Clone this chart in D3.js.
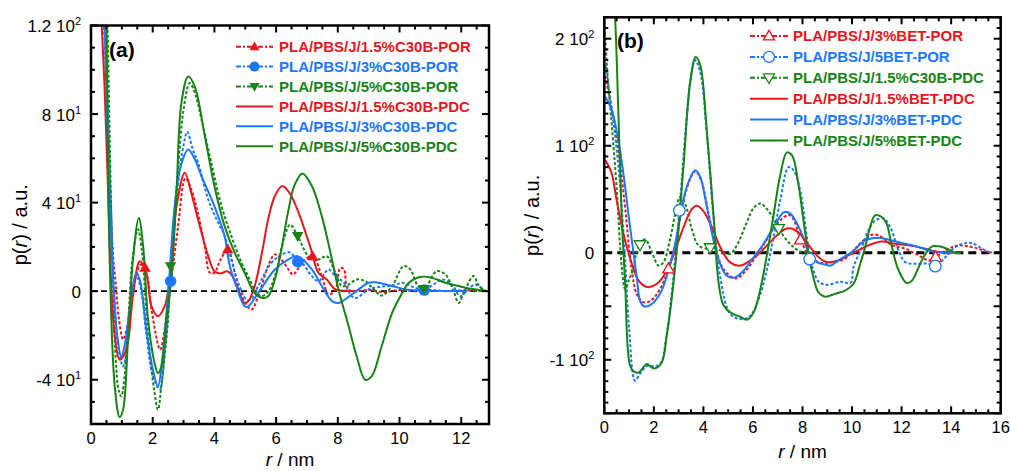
<!DOCTYPE html>
<html><head><meta charset="utf-8">
<script src="https://cdn.jsdelivr.net/npm/d3@7"></script>
<style>
body{margin:0;background:#fff}
svg{display:block}
text{font-family:"Liberation Sans",Arial,Helvetica,sans-serif}
</style></head>
<body><svg id="chart" width="1011" height="471"></svg>
<script>
// ---------- Panel (a) data: [r (nm), p(r)] ----------
const aRedPOR = [[0.3,160],[0.45,110],[0.6,50],[0.72,15],[0.8,4],[0.9,-12],[1.04,-21.8],[1.2,-14],[1.4,4],[1.62,12],[1.8,8],[1.98,-10],[2.24,-26.4],[2.4,-16],[2.5,-5],[2.6,5],[2.82,29],[3.06,51],[3.25,46],[3.47,35],[3.69,20],[3.85,8.3],[4.0,8.3],[4.2,14.3],[4.44,18.8],[4.66,8.3],[4.88,-2.3],[5.2,-8.3],[5.42,-2.3],[5.74,11.3],[5.96,16.6],[6.17,14.3],[6.4,9.8],[6.55,7.5],[6.73,10.5],[7.0,15],[7.21,15.5],[7.48,6.8],[7.7,-1.5],[7.92,0.8],[8.08,10.5],[8.2,9.8],[8.29,2.3],[8.45,0],[9,0.5],[9.5,-0.5],[10,0.5],[10.5,0],[11,0.5],[11.5,0],[12,0.3],[12.7,0]];
const aBluePOR = [[0.35,160],[0.5,100],[0.62,50],[0.75,0],[0.88,-25],[1.04,-34],[1.2,-20],[1.35,0],[1.47,7],[1.6,2],[1.8,-20],[2.0,-38],[2.23,-44.4],[2.4,-25],[2.58,4.5],[2.82,48],[3.0,66],[3.12,72],[3.3,64],[3.47,58],[3.8,41.4],[4.12,31],[4.33,25],[4.55,14.3],[4.77,3.8],[5.04,-3.8],[5.2,-3.5],[5.42,2.3],[5.85,12.8],[6.2,16.6],[6.45,17.5],[6.7,13.3],[6.83,12.8],[7.16,6.8],[7.37,4.5],[7.7,9.8],[7.92,6.8],[8.2,3.8],[8.45,-2.3],[8.61,-3],[9.0,0.8],[9.4,2],[9.8,2.5],[10.1,3.8],[10.5,1.5],[10.8,0.5],[11.1,3],[11.4,5.3],[11.7,3],[11.97,-2.3],[12.2,0.5],[12.45,3],[12.7,0.8]];
const aGreenPOR = [[0.45,170],[0.55,110],[0.65,40],[0.8,-30],[0.9,-45],[0.98,-47.5],[1.06,-42],[1.2,-15],[1.35,15],[1.52,28],[1.65,18],[1.85,-20],[2.05,-45],[2.17,-53.5],[2.3,-40],[2.5,-12.8],[2.58,11],[2.82,55],[3.0,82],[3.2,94],[3.4,88],[3.58,77.6],[3.9,58],[4.23,38.4],[4.55,24.9],[4.88,12.8],[5.09,6.8],[5.3,0.8],[5.52,-2.3],[5.75,0],[5.96,6.8],[6.28,24.9],[6.45,30],[6.7,24.9],[7.05,15.8],[7.37,14.3],[7.64,15.8],[7.92,8.3],[8.13,2.3],[8.35,3],[8.61,5.3],[8.89,4.5],[9.15,1],[9.42,-2],[9.76,2.3],[10.13,11.3],[10.35,9.8],[10.6,2.3],[10.8,1],[11.2,9],[11.49,7.5],[11.75,0],[11.92,-5.3],[12.1,0],[12.4,6.8],[12.55,3],[12.7,0.8]];
const aRedPDC = [[0.2,160],[0.34,122],[0.44,92],[0.55,47],[0.66,2],[0.77,-20],[0.93,-31],[1.15,-26],[1.36,-2],[1.58,13.5],[1.79,8.3],[1.96,-6.8],[2.17,-11.3],[2.39,-6.8],[2.55,5.3],[2.77,38],[3.04,53.5],[3.25,44.4],[3.47,32.4],[3.8,15.8],[4.0,9],[4.2,8],[4.4,9],[4.55,7.5],[4.77,0.8],[4.98,-5.3],[5.1,-4.5],[5.3,2],[5.55,18],[5.75,33],[5.96,43],[6.2,47.5],[6.45,44],[6.73,35.4],[7.1,20.3],[7.37,8.3],[7.64,5.3],[7.92,0.8],[8.3,0.2],[8.6,0]];
const aBluePDC = [[0.3,160],[0.45,115],[0.55,65],[0.7,10],[0.85,-20],[0.98,-29.4],[1.1,-24],[1.3,-3],[1.47,8.3],[1.6,4],[1.8,-18],[2.0,-35],[2.17,-43],[2.3,-32],[2.5,-0.8],[2.71,38],[2.9,56],[3.15,64],[3.35,60],[3.58,52],[4.0,38.4],[4.33,24.9],[4.5,11.3],[4.71,2.3],[4.98,-6.8],[5.09,-7],[5.42,-0.8],[5.96,9.8],[6.39,14.3],[6.7,15.8],[7.16,9.8],[7.48,2.3],[7.81,-4.5],[8.02,-5.3],[8.45,-1.5],[9.0,3.8],[9.22,4],[9.76,2.3],[10.2,0.8],[10.8,0.3],[11.5,0.1],[12.2,0]];
const aGreenPDC = [[0.45,170],[0.5,125],[0.6,17],[0.77,-43],[0.93,-57],[1.04,-53.5],[1.2,-21.8],[1.36,14.3],[1.55,33],[1.69,20.3],[1.85,-12.8],[2.06,-32.4],[2.17,-37],[2.28,-34],[2.44,-12.8],[2.6,5.3],[2.77,44.4],[2.93,85],[3.15,97],[3.36,92.6],[3.69,70],[4.0,47.5],[4.33,29.4],[4.66,17.3],[4.98,8.3],[5.3,-0.8],[5.52,-3],[5.74,-2.3],[5.96,5.3],[6.17,18.8],[6.39,36],[6.6,48],[6.85,53.2],[7.16,47.5],[7.48,33.9],[7.81,14.3],[8.02,0.8],[8.35,-15.8],[8.61,-29.4],[8.89,-40],[9.1,-38.4],[9.42,-24.9],[9.76,-9.8],[10.09,-0.8],[10.3,3.8],[10.72,6.5],[11.06,6],[11.49,3.8],[11.92,2.3],[12.35,1],[12.8,0.3]];
// markers panel (a)
const aRedMarks = [[1.75,10.6],[4.43,18.8],[7.18,15.8]];
const aBlueMarks = [[2.58,4.5],[6.7,13.3],[10.8,0.5]];
const aGreenMarks = [[2.58,11.3],[6.7,24.9],[10.8,1]];
const aLegendLabels = ["PLA/PBS/J/1.5%C30B-POR","PLA/PBS/J/3%C30B-POR","PLA/PBS/J/5%C30B-POR","PLA/PBS/J/1.5%C30B-PDC","PLA/PBS/J/3%C30B-PDC","PLA/PBS/J/5%C30B-PDC"];
const aXTicks = [0,2,4,6,8,10,12];
const aYTickVals = [-40,0,40,80,120];
const aYTickMant = ["-4","0","4","8","1.2"];
const aYTickExp = ["1","","1","1","2"];

// ---------- Panel (b) data ----------
const bRedPOR = [[0.03,165],[0.3,135],[0.6,90],[0.85,40],[1.1,-15],[1.3,-38],[1.55,-46],[1.85,-45],[2.2,-36],[2.59,-15],[2.9,12],[3.3,58],[3.67,76],[3.9,68],[4.2,38],[4.5,5],[4.8,-15],[5.3,-24],[5.7,-17],[6.1,-4],[6.5,10],[6.9,25],[7.3,34],[7.5,35],[7.7,28],[7.91,12],[8.24,-1],[8.64,-8.8],[9.18,-8.8],[9.72,-5.6],[10.12,3.8],[10.53,13],[10.86,17],[11.2,14.7],[11.61,7],[12.15,3.8],[12.69,-2.5],[13.1,-7.2],[13.37,-4],[13.7,1],[14.04,5.3],[14.3,6.9],[14.7,6],[15.1,3.8],[15.5,0.6],[15.8,0]];
const bBluePOR = [[0.05,175],[0.2,150],[0.37,122],[0.57,80],[0.8,10],[1.0,-70],[1.24,-119.6],[1.44,-113],[1.72,-106],[2.0,-106],[2.25,-104],[2.52,-76],[2.72,-38],[3.03,39.6],[3.3,120],[3.5,165],[3.67,180],[3.87,169],[4.14,111],[4.4,35],[4.68,-23],[5.08,-57],[5.49,-62],[5.89,-59],[6.3,-38.5],[6.7,-1],[7.1,49],[7.44,80],[7.64,77],[7.91,58],[8.18,14],[8.3,-4],[8.45,-17],[8.65,-27],[8.99,-30],[9.53,-27],[9.94,-28],[10.06,-13.4],[10.4,5.3],[10.66,21],[10.93,30],[11.27,32],[11.54,24],[11.88,2],[12.15,-8.8],[12.55,-10.3],[13.1,-10.3],[13.36,-12.8],[13.77,-4],[14.17,5.3],[14.57,9],[14.84,9],[15.25,3.8],[15.58,0]];
const bGreenPOR = [[0.0,215],[0.15,160],[0.3,120],[0.5,60],[0.7,-12],[0.84,-34],[1.0,-25],[1.17,-15],[1.3,0],[1.44,7.5],[1.65,12.5],[1.92,0.6],[2.19,-12],[2.39,-8.8],[2.66,13],[2.93,44],[3.06,52],[3.26,46],[3.53,22.5],[3.8,6.9],[4.14,3.8],[4.27,4.7],[4.55,3.8],[4.81,0.6],[5.08,-1],[5.35,6.9],[5.76,28.8],[6.03,42],[6.3,46],[6.56,41],[6.83,32],[7.04,22.5],[7.37,11.6],[7.64,5.3],[7.91,1.2],[8.3,0],[8.7,0]];
const bRedPDC = [[0.03,87],[0.15,82],[0.3,74],[0.5,49],[0.77,18],[1.11,-10],[1.38,-25.8],[1.72,-32],[2.12,-29],[2.52,-16.7],[2.86,2],[3.2,24],[3.53,40.8],[3.73,44],[4.0,39],[4.34,24],[4.68,5.3],[5.08,-9],[5.49,-12],[5.89,-7.3],[6.3,0.5],[6.7,10],[7.1,19],[7.37,22.6],[7.64,22],[7.91,17.3],[8.31,5.3],[8.72,-5.6],[9.0,-8.8],[9.45,-7.2],[9.8,-3],[10.12,0.6],[10.66,6.9],[11.2,10.6],[11.75,8.4],[12.29,6.9],[12.83,4.4],[13.37,1.2],[13.9,0],[14.2,0]];
const bBluePDC = [[0.03,146],[0.3,133.5],[0.57,105],[0.77,74],[1.04,24],[1.31,-22.8],[1.44,-44.7],[1.6,-50],[1.85,-49],[2.25,-38.4],[2.59,-16.6],[2.86,8.4],[3.06,33.4],[3.33,61.6],[3.67,77],[3.87,71],[4.14,42.6],[4.41,11.2],[4.68,-10.6],[4.95,-21.6],[5.28,-23],[5.62,-16.7],[6.03,-4.2],[6.43,8.4],[6.84,24],[7.24,37.8],[7.51,36.6],[7.91,21],[8.25,0.6],[8.59,-8.8],[8.91,-11],[9.13,-12],[9.45,-7],[9.99,0.6],[10.53,11.5],[11.07,14],[11.61,11.5],[12.15,8.4],[12.69,5.3],[13.23,1.2],[13.77,0],[14.1,0]];
const bGreenPDC = [[0.3,260],[0.43,222],[0.57,129],[0.7,35],[0.84,-27.5],[1.04,-105.6],[1.2,-111],[1.38,-112],[1.72,-104],[1.9,-107],[2.05,-108],[2.32,-102.5],[2.52,-77.5],[2.72,-43],[2.93,3.8],[3.2,82],[3.47,160],[3.69,183],[3.87,175.6],[4.14,113],[4.41,35],[4.61,-27.5],[4.81,-49],[5.08,-55.6],[5.49,-60],[5.76,-62.5],[6.03,-55.6],[6.3,-33.8],[6.56,-2.5],[6.83,35],[7.1,72.5],[7.37,93.8],[7.58,91],[7.83,64.7],[8.04,30],[8.24,-1],[8.44,-22.8],[8.64,-36.9],[8.91,-41],[9.31,-38.4],[9.72,-35.3],[10.06,-29],[10.33,-10.3],[10.53,5.3],[10.73,24],[10.93,35],[11.2,33.4],[11.4,27],[11.61,5.3],[11.88,-16.6],[12.21,-28.4],[12.42,-26],[12.69,-13.4],[12.96,-1],[13.23,6],[13.5,6],[13.83,3.8],[14.17,0],[14.4,0]];
const bRedMarks = [[2.59,-15],[7.91,12],[13.37,-4]];
const bBlueMarks = [[3.03,39.6],[8.29,-6],[13.36,-12.5]];
const bGreenMarks = [[1.44,7.5],[4.27,4.7],[7.04,22.5]];
const bLegendLabels = ["PLA/PBS/J/3%BET-POR","PLA/PBS/J/5BET-POR","PLA/PBS/J/1.5%C30B-PDC","PLA/PBS/J/1.5%BET-PDC","PLA/PBS/J/3%BET-PDC","PLA/PBS/J/5%BET-PDC"];
const bXTicks = [0,2,4,6,8,10,12,14,16];
const bYTickVals = [-100,0,100,200];
const bYTickMant = ["-1","0","1","2"];
const bYTickExp = ["2","","2","2"];

const RED = "#e8161c", BLUE = "#1a78ff", GREEN = "#178317";

const svg = d3.select("#chart");

function drawPanel(cfg) {
  const x = d3.scaleLinear().domain(cfg.xDomain).range([cfg.left, cfg.right]);
  const y = d3.scaleLinear().domain(cfg.yDomain).range([cfg.bottom, cfg.top]);
  const g = svg.append("g");
  const clipId = "clip" + cfg.id;
  svg.append("clipPath").attr("id", clipId).append("rect")
    .attr("x", cfg.left).attr("y", cfg.top)
    .attr("width", cfg.right - cfg.left).attr("height", cfg.bottom - cfg.top);

  g.append("line").attr("x1", x(cfg.xDomain[0])).attr("x2", x(cfg.xDomain[1]))
    .attr("y1", y(0)).attr("y2", y(0))
    .attr("stroke", "#000").attr("stroke-width", cfg.zeroW).attr("stroke-dasharray", cfg.zeroDash);

  const line = d3.line().x(d => x(d[0])).y(d => y(d[1])).curve(d3.curveCatmullRom.alpha(0.5));
  const lg = g.append("g").attr("clip-path", `url(#${clipId})`);
  cfg.series.forEach(s => {
    lg.append("path").datum(s.data).attr("d", line)
      .attr("fill", "none").attr("stroke", s.color).attr("stroke-width", 2)
      .attr("stroke-dasharray", s.dashed ? "3,2" : null)
      .attr("stroke-linejoin", "round");
  });
  cfg.marks.forEach(m => {
    m.data.forEach(d => drawMarker(lg, m.shape, x(d[0]), y(d[1]), m.color, cfg.filled, cfg.msize));
  });

  g.append("rect").attr("x", cfg.left).attr("y", cfg.top)
    .attr("width", cfg.right - cfg.left).attr("height", cfg.bottom - cfg.top)
    .attr("fill", "none").attr("stroke", "#000").attr("stroke-width", 2.5);

  const tg = g.append("g").attr("stroke", "#000").attr("stroke-width", 2);
  const xMinor = d3.range(cfg.xDomain[0], cfg.xDomain[1] + 1e-9, cfg.xMinorStep);
  xMinor.forEach(v => {
    const major = Math.abs(v / cfg.xMajorStep - Math.round(v / cfg.xMajorStep)) < 1e-6;
    const len = major ? 7 : 4;
    tg.append("line").attr("x1", x(v)).attr("x2", x(v)).attr("y1", cfg.bottom).attr("y2", cfg.bottom - len);
    tg.append("line").attr("x1", x(v)).attr("x2", x(v)).attr("y1", cfg.top).attr("y2", cfg.top + len);
  });
  const yMinor = d3.range(cfg.yDomain[0], cfg.yDomain[1] + 1e-9, cfg.yMinorStep);
  yMinor.forEach(v => {
    const major = Math.abs(v / cfg.yMajorStep - Math.round(v / cfg.yMajorStep)) < 1e-6;
    const len = major ? 7 : 4;
    tg.append("line").attr("y1", y(v)).attr("y2", y(v)).attr("x1", cfg.left).attr("x2", cfg.left + len);
    tg.append("line").attr("y1", y(v)).attr("y2", y(v)).attr("x1", cfg.right).attr("x2", cfg.right - len);
  });

  cfg.xTicks.forEach(v => {
    g.append("text").attr("x", x(v)).attr("y", cfg.bottom + 20)
      .attr("text-anchor", "middle").attr("font-size", 16.5).attr("fill", "#000").text(v);
  });
  cfg.yTickVals.forEach((v, i) => {
    const t = g.append("text").attr("x", cfg.left - 10).attr("y", y(v) + 6.5)
      .attr("text-anchor", "end").attr("font-size", 17).attr("fill", "#000");
    if (cfg.yTickExp[i] === "") { t.text(cfg.yTickMant[i]); }
    else {
      t.append("tspan").text(cfg.yTickMant[i] + " 10");
      t.append("tspan").attr("font-size", 11).attr("dy", -7).text(cfg.yTickExp[i]);
    }
  });
  const xt = g.append("text").attr("x", (cfg.left + cfg.right) / 2).attr("y", cfg.xTitleY)
    .attr("text-anchor", "middle").attr("font-size", 19).attr("fill", "#000");
  xt.append("tspan").attr("font-style", "italic").text("r");
  xt.append("tspan").text(" / nm");
  const yt = g.append("text").attr("transform", `translate(${cfg.yTitleX},${(cfg.top + cfg.bottom) / 2}) rotate(-90)`)
    .attr("text-anchor", "middle").attr("font-size", 20).attr("fill", "#000");
  yt.append("tspan").text("p(");
  yt.append("tspan").attr("font-style", "italic").text("r");
  yt.append("tspan").text(") / a.u.");

  g.append("text").attr("x", cfg.letterX).attr("y", cfg.letterY)
    .attr("font-size", 21).attr("font-weight", "bold").attr("fill", "#000").text(cfg.letter);

  cfg.series.forEach((s, i) => {
    const ly = cfg.legY + i * cfg.legDy;
    g.append("line").attr("x1", cfg.legX1).attr("x2", cfg.legX2).attr("y1", ly).attr("y2", ly)
      .attr("stroke", s.color).attr("stroke-width", 2)
      .attr("stroke-dasharray", s.dashed ? "5,2,2,2" : null);
    if (s.shape) drawMarker(g, s.shape, (cfg.legX1 + cfg.legX2) / 2, ly, s.color, cfg.filled, cfg.lsize);
    g.append("text").attr("x", cfg.legTx).attr("y", ly + 5.3)
      .attr("font-size", 15).attr("font-weight", "bold").attr("fill", s.color).text(cfg.labels[i]);
  });
}

function drawMarker(g, shape, cx, cy, color, filled, size) {
  const fill = filled ? color : "#fff";
  const sw = filled ? 0 : 1.3;
  if (shape === "circle") {
    g.append("circle").attr("cx", cx).attr("cy", cy).attr("r", size / 2)
      .attr("fill", fill).attr("stroke", color).attr("stroke-width", sw);
  } else {
    const h = size * 0.87, w = size / 2;
    let pts;
    if (shape === "up") pts = [[cx, cy - h * 0.6], [cx - w, cy + h * 0.4], [cx + w, cy + h * 0.4]];
    else pts = [[cx, cy + h * 0.6], [cx - w, cy - h * 0.4], [cx + w, cy - h * 0.4]];
    g.append("polygon").attr("points", pts.map(p => p.join(",")).join(" "))
      .attr("fill", fill).attr("stroke", color).attr("stroke-width", sw);
  }
}

drawPanel({
  id: "a", left: 91, right: 489, top: 25.5, bottom: 424,
  xDomain: [0, 12.9], yDomain: [-60, 120],
  xMinorStep: 0.5, xMajorStep: 2, yMinorStep: 10, yMajorStep: 40,
  xTicks: aXTicks, yTickVals: aYTickVals, yTickMant: aYTickMant, yTickExp: aYTickExp,
  zeroW: 1.6, zeroDash: "6,4", yTitleX: 27, xTitleY: 466, letter: "(a)", letterX: 109, letterY: 57,
  filled: true, msize: 11.5, lsize: 10,
  legY: 46.7, legDy: 19.9, legX1: 236, legX2: 273, legTx: 279, labels: aLegendLabels,
  series: [
    {data: aRedPOR, color: RED, dashed: true, shape: "up"},
    {data: aBluePOR, color: BLUE, dashed: true, shape: "circle"},
    {data: aGreenPOR, color: GREEN, dashed: true, shape: "down"},
    {data: aRedPDC, color: RED},
    {data: aBluePDC, color: BLUE},
    {data: aGreenPDC, color: GREEN}
  ],
  marks: [
    {data: aRedMarks, color: RED, shape: "up"},
    {data: aBlueMarks, color: BLUE, shape: "circle"},
    {data: aGreenMarks, color: GREEN, shape: "down"}
  ]
});

drawPanel({
  id: "b", left: 604.3, right: 1000.7, top: 17.3, bottom: 413.3,
  xDomain: [0, 16], yDomain: [-150, 220],
  xMinorStep: 0.5, xMajorStep: 2, yMinorStep: 10, yMajorStep: 50,
  xTicks: bXTicks, yTickVals: bYTickVals, yTickMant: bYTickMant, yTickExp: bYTickExp,
  zeroW: 3, zeroDash: "8,5", yTitleX: 539, xTitleY: 458, letter: "(b)", letterX: 617, letterY: 48,
  filled: false, msize: 11.5, lsize: 11,
  legY: 36, legDy: 20.9, legX1: 750, legX2: 788, legTx: 793, labels: bLegendLabels,
  series: [
    {data: bRedPOR, color: RED, dashed: true, shape: "up"},
    {data: bBluePOR, color: BLUE, dashed: true, shape: "circle"},
    {data: bGreenPOR, color: GREEN, dashed: true, shape: "down"},
    {data: bRedPDC, color: RED},
    {data: bBluePDC, color: BLUE},
    {data: bGreenPDC, color: GREEN}
  ],
  marks: [
    {data: bRedMarks, color: RED, shape: "up"},
    {data: bBlueMarks, color: BLUE, shape: "circle"},
    {data: bGreenMarks, color: GREEN, shape: "down"}
  ]
});
</script></body></html>
